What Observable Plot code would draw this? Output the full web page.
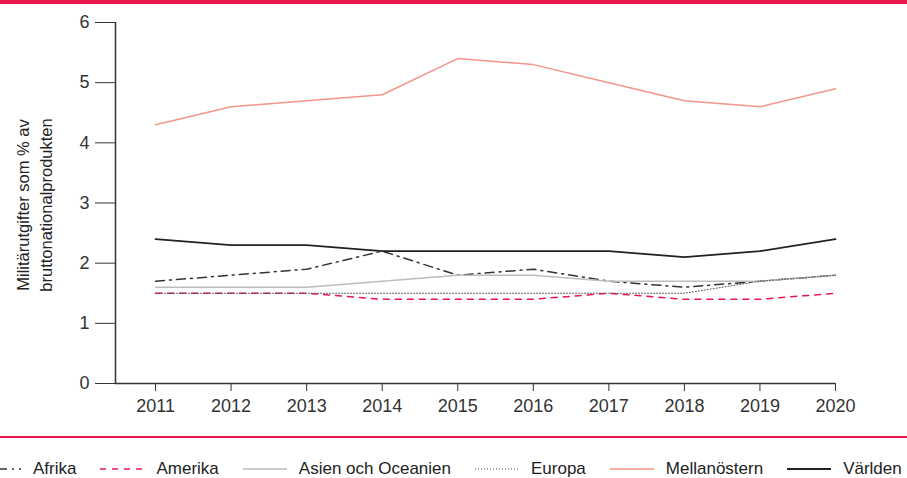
<!DOCTYPE html>
<html><head><meta charset="utf-8">
<script src="https://cdn.jsdelivr.net/npm/d3@7"></script>
<script src="https://cdn.jsdelivr.net/npm/@observablehq/plot@0.6"></script>
<style>
body{margin:0;background:#fff;font-family:"Liberation Sans",Arial,sans-serif;width:907px;overflow:hidden;}
#top{height:4px;background:#e8174e;}
#sep{height:2px;background:#e8174e;}
#legend{display:flex;align-items:center;margin-left:-23px;margin-top:21px;font-size:17px;color:#222;white-space:nowrap;}
.item{display:flex;align-items:center;margin-right:24px;}
.item:last-child{margin-right:0;}
.item svg{margin-right:12px;}
</style></head>
<body>
<div id="top"></div>
<div id="chart"></div>
<div id="sep"></div>
<div id="legend"></div>
<script>
const years = [2011,2012,2013,2014,2015,2016,2017,2018,2019,2020];
const regions = ["Afrika","Amerika","Asien och Oceanien","Europa","Mellanöstern","Världen"];
const afrika = [1.7,1.8,1.9,2.2,1.8,1.9,1.7,1.6,1.7,1.8];
const amerika = [1.5,1.5,1.5,1.4,1.4,1.4,1.5,1.4,1.4,1.5];
const asien = [1.6,1.6,1.6,1.7,1.8,1.8,1.7,1.7,1.7,1.8];
const europa = [1.5,1.5,1.5,1.5,1.5,1.5,1.5,1.5,1.7,1.8];
const mellanostern = [4.3,4.6,4.7,4.8,5.4,5.3,5.0,4.7,4.6,4.9];
const varlden = [2.4,2.3,2.3,2.2,2.2,2.2,2.2,2.1,2.2,2.4];
const yTicks = [0,1,2,3,4,5,6];
const yLabel = "Militärutgifter som % av\nbruttonationalprodukten";

const seriesValues = [afrika, amerika, asien, europa, mellanostern, varlden];
const styles = {
  "Afrika": {stroke:"#333", dash:"9,5,2,5", w:1.5},
  "Amerika": {stroke:"#e8174e", dash:"6,6", w:1.5},
  "Asien och Oceanien": {stroke:"#bdbdbd", dash:null, w:1.5},
  "Europa": {stroke:"#555", dash:"1,2", w:1},
  "Mellanöstern": {stroke:"#f4948a", dash:null, w:1.5},
  "Världen": {stroke:"#222", dash:null, w:1.8}
};
const x0 = 2010.47;
const marks = [];
regions.forEach((r,i) => {
  const data = years.map((y,j) => ({year:y, value:seriesValues[i][j]}));
  const s = styles[r];
  marks.push(Plot.line(data, {x:"year", y:"value", stroke:s.stroke, strokeWidth:s.w, strokeDasharray:s.dash || undefined}));
});
const chart = Plot.plot({
  width:907, height:432,
  marginTop:18, marginBottom:53, marginLeft:115, marginRight:72,
  style:{fontFamily:"'Liberation Sans', Arial, sans-serif", fontSize:"18px", color:"#333", background:"#fff"},
  x:{type:"linear", domain:[x0,2020]},
  y:{domain:[0,6]},
  marks:[
    Plot.axisY({ticks:yTicks, tickSize:20, tickPadding:6, label:null, fontSize:18, tickFormat:d=>String(d)}),
    Plot.axisX({ticks:years, tickSize:8, tickPadding:8, label:null, fontSize:18, tickFormat:d=>String(d)}),
    Plot.ruleX([x0], {y1:0, y2:6, stroke:"#333", strokeWidth:1.5}),
    Plot.ruleY([0], {stroke:"#333", strokeWidth:1.5}),
    Plot.text([yLabel], {frameAnchor:"left", textAnchor:"middle", lineAnchor:"middle", rotate:-90, dx:-82, dy:2, fontSize:16.5, fill:"#222", lineHeight:1.4}),
    ...marks
  ]
});
document.getElementById("chart").appendChild(chart);

const legend = document.getElementById("legend");
regions.forEach(r => {
  const s = styles[r];
  const item = document.createElement("div");
  item.className = "item";
  item.innerHTML = `<svg width="44" height="10"><line x1="0" y1="5" x2="44" y2="5" stroke="${s.stroke}" stroke-width="${s.w}" ${s.dash?`stroke-dasharray="${s.dash}"`:""}/></svg><span>${r}</span>`;
  legend.appendChild(item);
});
</script>
</body></html>
